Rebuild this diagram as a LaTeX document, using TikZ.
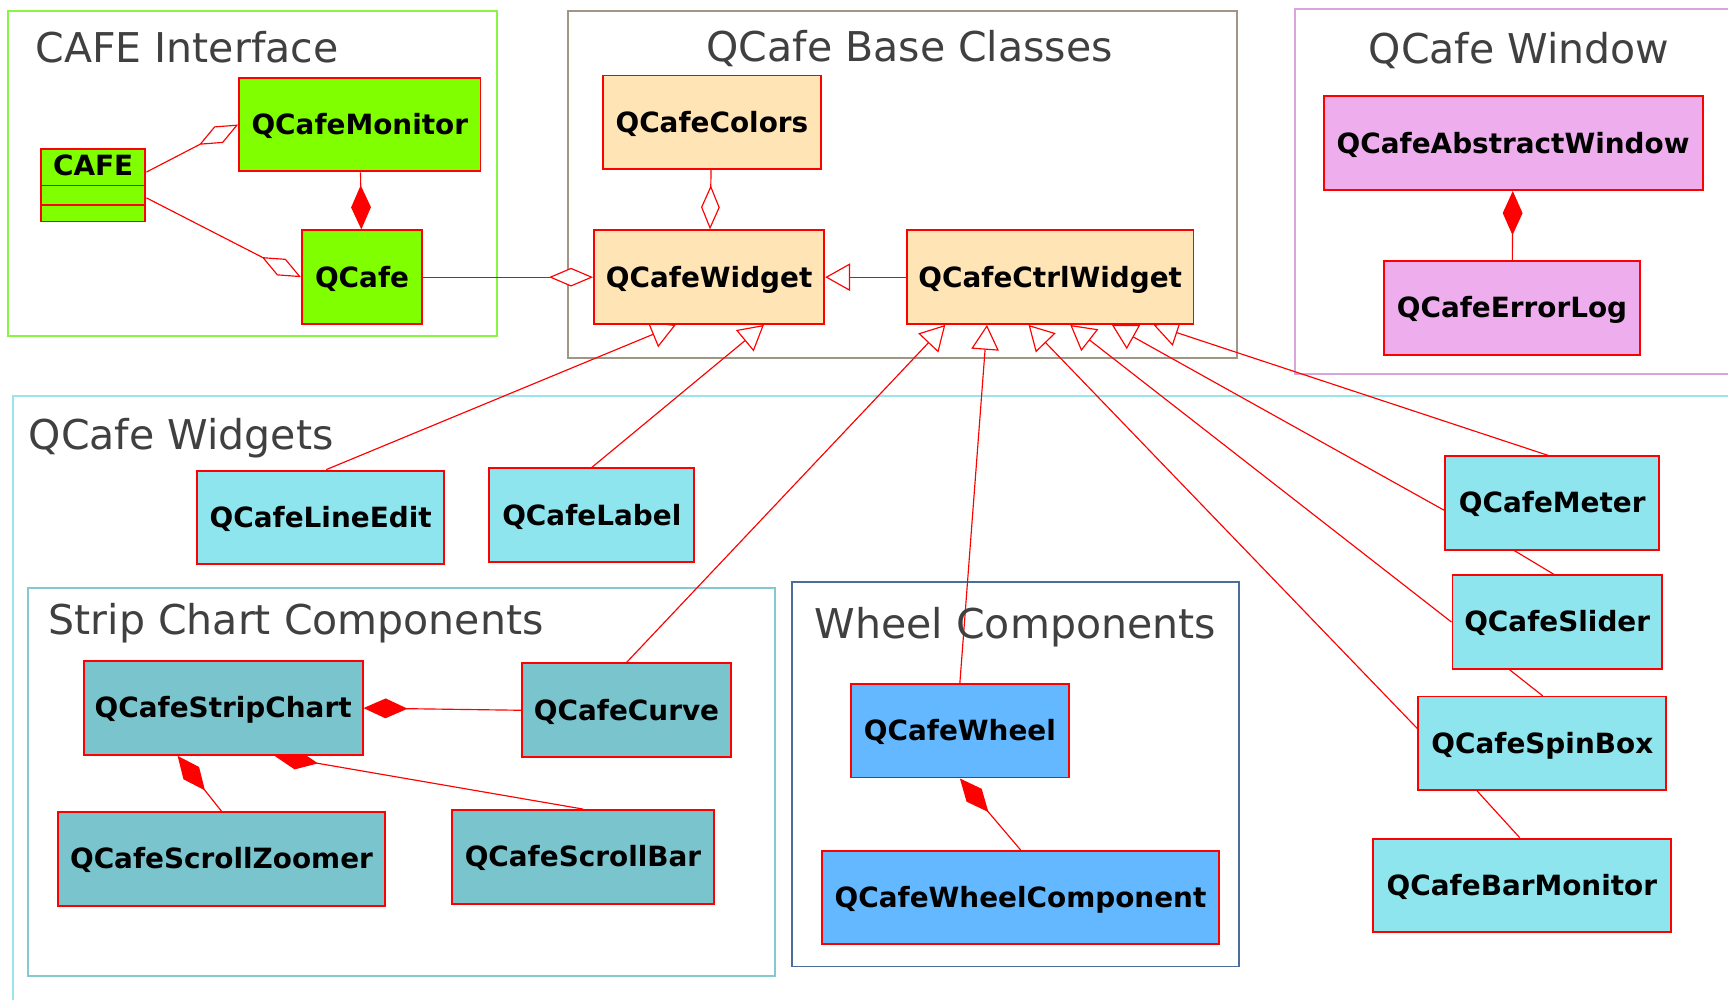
\documentclass[tikz,border=0pt]{standalone}
\usepackage{fontspec}
\usepackage{tikz}
\usetikzlibrary{arrows.meta, positioning, calc, backgrounds}
\newfontfamily\dejavu{DejaVu Sans}
\definecolor{cafegreen}{HTML}{7FFF00}
\definecolor{basefill}{HTML}{FFE4B5}
\definecolor{windowfill}{HTML}{EEAEEE}
\definecolor{widgetfill}{HTML}{8EE5EE}
\definecolor{stripfill}{HTML}{7AC5CD}
\definecolor{wheelfill}{HTML}{63B8FF}
\definecolor{ifaceframe}{HTML}{88F542}
\definecolor{baseframe}{HTML}{A09684}
\definecolor{windowframe}{HTML}{D8A4DC}
\definecolor{widgetframe}{HTML}{9CE4EC}
\definecolor{stripframe}{HTML}{86C8D0}
\definecolor{wheelframe}{HTML}{4A6D9C}
\definecolor{titlegray}{HTML}{404040}

\begin{document}
\begin{tikzpicture}[
    x=0.02cm, y=-0.02cm,
    cls/.style={draw=red, line width=1pt, minimum height=1.7cm, inner sep=0pt, text height=10.2pt, text depth=0pt, font=\dejavu\bfseries\fontsize{14.4}{17}\selectfont},
    ifacebox/.style={cls, fill=cafegreen},
    basebox/.style={cls, fill=basefill},
    winbox/.style={cls, fill=windowfill},
    widgetbox/.style={cls, fill=widgetfill},
    stripbox/.style={cls, fill=stripfill},
    wheelbox/.style={cls, fill=wheelfill},
    clustertitle/.style={anchor=base west, inner sep=0pt, text=titlegray, font=\dejavu\fontsize{21.2}{25}\selectfont},
    frame/.style={line width=1pt},
    aggr/.style={draw=red, line width=0.6pt, -{Diamond[fill=white, length=0.8cm, width=0.34cm]}},
    comp/.style={draw=red, line width=0.6pt, -{Diamond[length=0.8cm, width=0.36cm]}},
    inherit/.style={draw=red, line width=0.6pt, -{Triangle[fill=white, length=0.45cm, width=0.5cm]}}
]
    \useasboundingbox (0,0) rectangle (1568,907);

    % Cluster titles
    \node[clustertitle] (ifacetitle) at (31.8,56.5) {CAFE Interface};
    \node[clustertitle] (basetitle) at (640.7,56) {QCafe Base Classes};
    \node[clustertitle] (wintitle) at (1241.6,57.4) {QCafe Window};
    \node[clustertitle] (widgettitle) at (25.7,407.5) {QCafe Widgets};
    \node[clustertitle] (striptitle) at (43.8,576) {Strip Chart Components};
    \node[clustertitle] (wheeltitle) at (739,579.5) {Wheel Components};

    % Nodes - CAFE interface
    \node[ifacebox, minimum width=1.9cm, minimum height=1.32cm] (cafe) at (84.5,168) {};
    \node[inner sep=0pt, anchor=base, font=\dejavu\bfseries\fontsize{14.4}{17}\selectfont] (cafename) at (84.5,159.5) {CAFE};
    \draw[draw=red, line width=1pt] ($(cafe.north west)+(0,34.2)$) -- ($(cafe.north east)+(0,34.2)$);
    \draw[draw=red, line width=1pt] ($(cafe.north west)+(0,51.5)$) -- ($(cafe.north east)+(0,51.5)$);
    \node[ifacebox, minimum width=4.38cm] (monitor) at (326.5,113) {QCafeMonitor};
    \node[ifacebox, minimum width=2.18cm] (qcafe) at (328.5,251.5) {QCafe};

    % Nodes - base classes
    \node[basebox, minimum width=3.96cm] (colors) at (646,111) {QCafeColors};
    \node[basebox, minimum width=4.18cm] (widget) at (643.5,251.5) {QCafeWidget};
    \node[basebox, minimum width=5.2cm] (ctrl) at (953,251.5) {QCafeCtrlWidget};

    % Nodes - window
    \node[winbox, minimum width=6.88cm] (abswin) at (1373,130) {QCafeAbstractWindow};
    \node[winbox, minimum width=4.64cm] (errlog) at (1372,279.5) {QCafeErrorLog};

    % Nodes - widgets
    \node[widgetbox, minimum width=4.48cm] (lineedit) at (291,469.5) {QCafeLineEdit};
    \node[widgetbox, minimum width=3.72cm] (label) at (537,467.5) {QCafeLabel};
    \node[widgetbox, minimum width=3.88cm] (meter) at (1408.5,456.5) {QCafeMeter};
    \node[widgetbox, minimum width=3.8cm] (slider) at (1413,564.5) {QCafeSlider};
    \node[widgetbox, minimum width=4.5cm] (spin) at (1399.5,674.5) {QCafeSpinBox};
    \node[widgetbox, minimum width=5.4cm] (barmon) at (1381,803.5) {QCafeBarMonitor};

    % Nodes - strip chart
    \node[stripbox, minimum width=5.06cm] (strip) at (202.5,642.5) {QCafeStripChart};
    \node[stripbox, minimum width=3.78cm] (curve) at (568.5,644.5) {QCafeCurve};
    \node[stripbox, minimum width=5.92cm] (zoomer) at (201,779.5) {QCafeScrollZoomer};
    \node[stripbox, minimum width=4.76cm] (scrollbar) at (529,777.5) {QCafeScrollBar};

    % Nodes - wheel
    \node[wheelbox, minimum width=3.96cm] (wheel) at (871,663) {QCafeWheel};
    \node[wheelbox, minimum width=7.2cm] (wheelcomp) at (926,814.5) {QCafeWheelComponent};

    \begin{scope}[on background layer]
    \fill[white] (0,0) rectangle (1568,907);
    % Clusters
    \draw[frame, ifaceframe] (7.6,10) rectangle (451,305);
    \draw[frame, baseframe] (515,10) rectangle (1122.5,324.5);
    \draw[frame, windowframe] (1568,8.2) -| (1175,339) -- (1568,339);
    \draw[frame, widgetframe] (1568,359) -| (11.5,907);
    \draw[frame, stripframe] (25,533.6) rectangle (703,886);
    \draw[frame, wheelframe] (719,528) rectangle (1124,877);

    % Arrows
    \draw[aggr] ($(cafe.north east)+(0,22)$) -- (monitor.west);
    \draw[aggr] ($(cafe.north east)+(0,45.4)$) -- (qcafe.west);
    \draw[comp] (monitor) -- (qcafe);
    \draw[aggr] (qcafe) -- (widget);
    \draw[aggr] (colors) -- (widget);
    \draw[inherit] (ctrl) -- (widget);
    \draw[inherit] ($(lineedit.north)+(5,0)$) -- ($(widget.south west)+(75,0)$);
    \draw[inherit] (label.north) -- ($(widget.south west)+(155,0)$);
    \draw[inherit] (curve.north) -- ($(ctrl.south west)+(35.6,0)$);
    \draw[inherit] (wheel.north) -- ($(ctrl.south west)+(73.4,0)$);
    \draw[inherit] ($(spin.north west)+(0,30)$) -- ($(ctrl.south west)+(111.2,0)$);
    \draw[inherit] (slider.west) -- ($(ctrl.south west)+(149,0)$);
    \draw[inherit] ($(meter.north west)+(0,50)$) -- ($(ctrl.south west)+(186.8,0)$);
    \draw[inherit] ($(barmon.north)+(-2,0)$) -- ($(spin.south)+(-59,0)$) -- (spin.north)
        -- ($(slider.south)+(-43,0)$) -- ($(slider.north)+(-3,0)$)
        -- ($(meter.south)+(-34,0)$) -- ($(meter.north)+(-4,0)$)
        -- ($(ctrl.south west)+(224.6,0)$);
    \draw[comp] (errlog) -- (abswin);
    \draw[comp] (curve.west) -- (strip.east);
    \draw[comp] (zoomer.north) -- ($(strip.south west)+(86,0)$);
    \draw[comp] (scrollbar.north) -- ($(strip.south west)+(174,0)$);
    \draw[comp] (wheelcomp.north) -- (wheel.south);
    \end{scope}
\end{tikzpicture}
\end{document}
